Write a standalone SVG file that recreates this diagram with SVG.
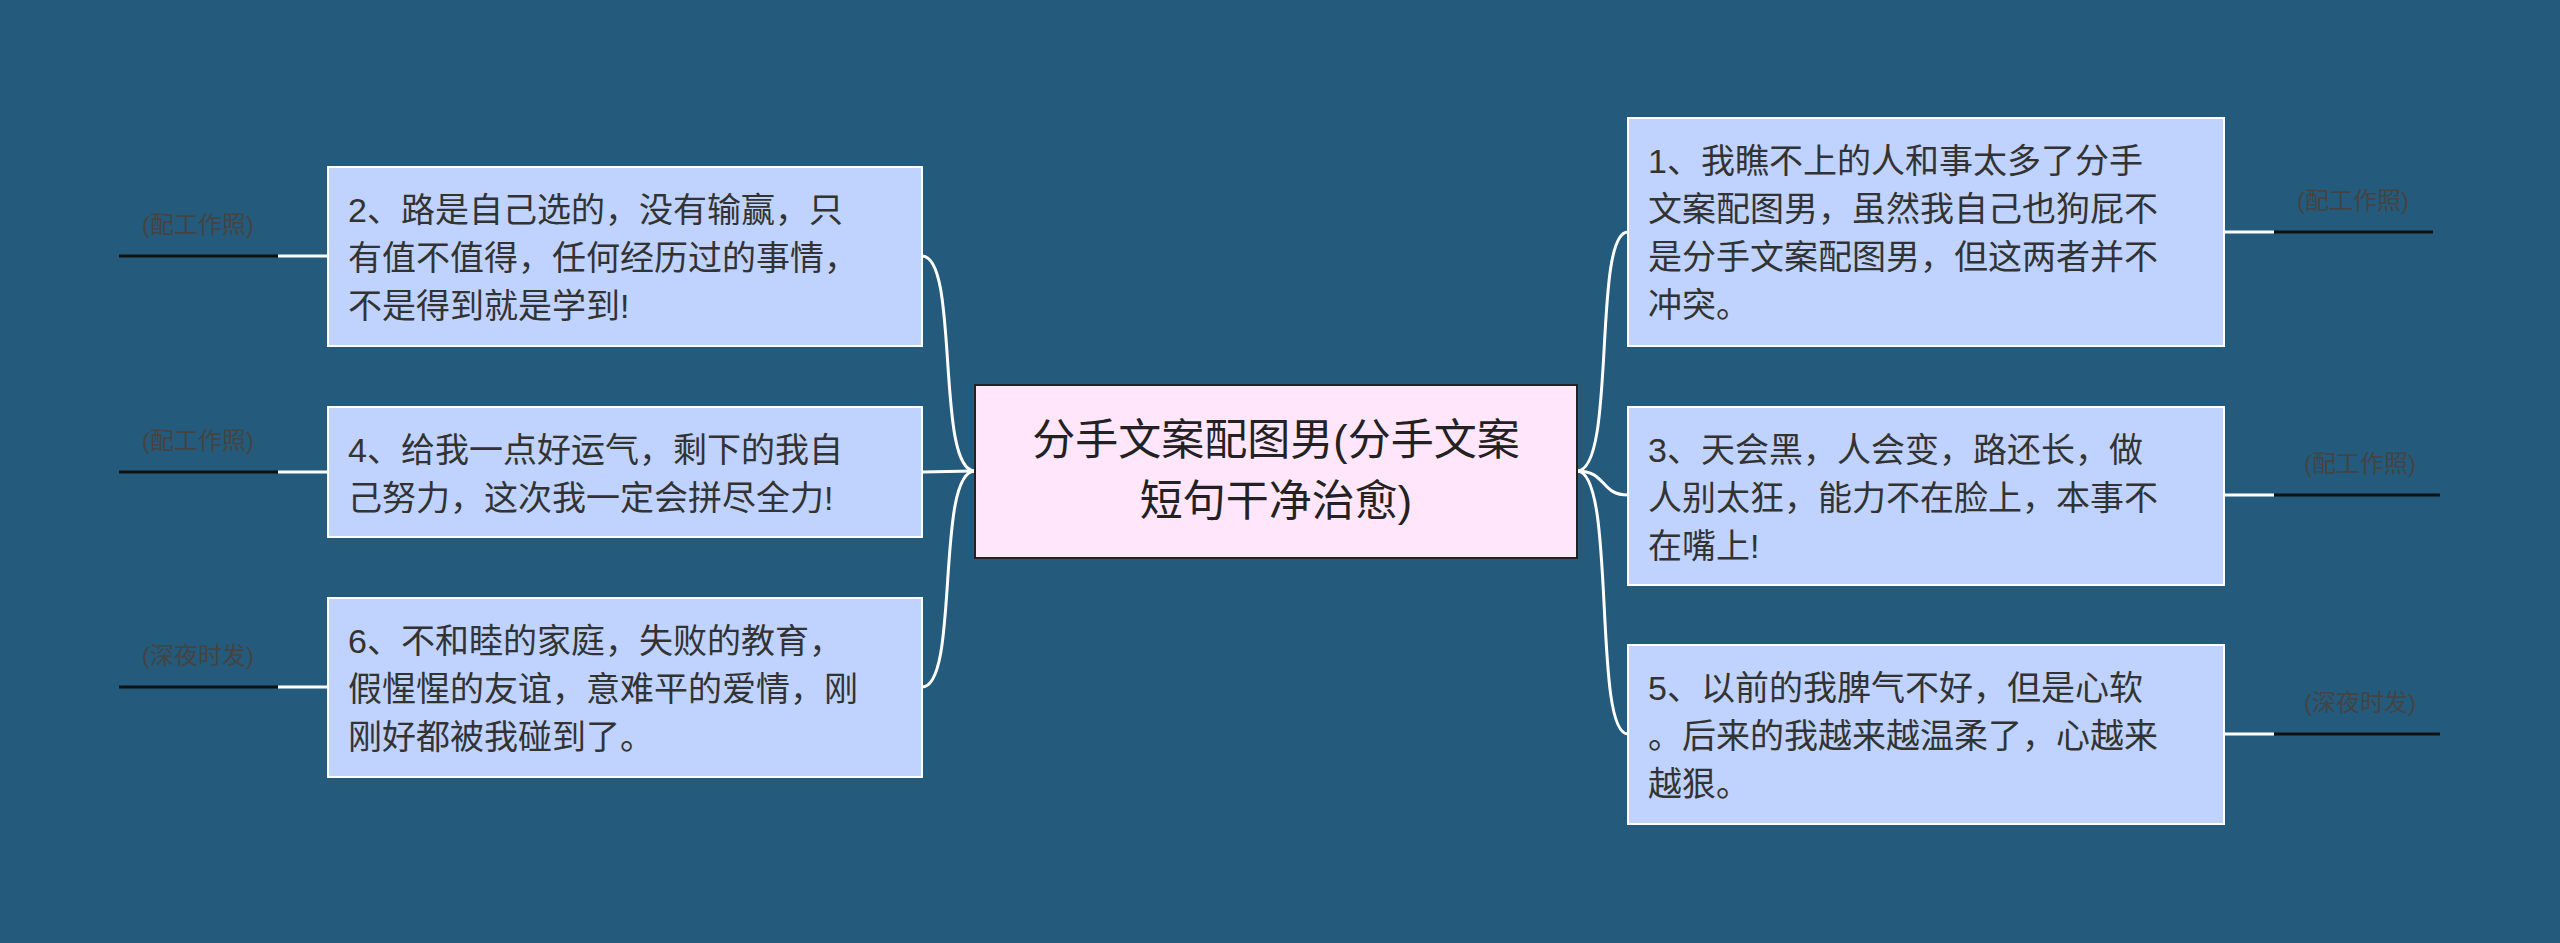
<svg xmlns="http://www.w3.org/2000/svg" width="2560" height="943" viewBox="0 0 2560 943">
<style>
.n rect{fill:#c0d3ff;stroke:#ffffff;stroke-width:2}
.n text{font-family:"Liberation Sans","Noto Sans CJK SC",sans-serif;font-size:34px;fill:#333}
.l text{font-family:"Liberation Sans","Noto Sans CJK SC",sans-serif;font-size:24px;fill:#444;text-anchor:middle}
.l line{stroke:#111;stroke-width:3}
.c path,.c line{fill:none;stroke:#fff;stroke-width:3}
</style>
<rect width="2560" height="943" fill="#245a7b"/>
<g class="c">
<path d="M975 471 C935 471 960 256 922 256"/>
<path d="M975 471 C945 471 950 472 922 472"/>
<path d="M975 471 C935 471 960 687 922 687"/>
<path d="M1577 471 C1617 471 1592 232 1628 232"/>
<path d="M1577 471 C1607 471 1600 495 1628 495"/>
<path d="M1577 471 C1617 471 1592 734 1628 734"/>
<line x1="278" y1="256" x2="328" y2="256"/>
<line x1="278" y1="472" x2="328" y2="472"/>
<line x1="278" y1="687" x2="328" y2="687"/>
<line x1="2224" y1="232" x2="2274" y2="232"/>
<line x1="2224" y1="495" x2="2274" y2="495"/>
<line x1="2224" y1="734" x2="2274" y2="734"/>
</g>
<g id="center"><rect x="975" y="385" width="602" height="173" fill="#ffe6fb" stroke="#222" stroke-width="2"/>
<text x="1276" y="455" font-family="Liberation Sans,Noto Sans CJK SC,sans-serif" font-size="43" fill="#222" text-anchor="middle">分手文案配图男(分手文案</text>
<text x="1276" y="516" font-family="Liberation Sans,Noto Sans CJK SC,sans-serif" font-size="43" fill="#222" text-anchor="middle">短句干净治愈)</text></g>
<g id="n2" class="n"><rect x="328" y="167" width="594" height="179"/>
<text x="348" y="222">2、路是自己选的，没有输赢，只</text><text x="348" y="270">有值不值得，任何经历过的事情，</text><text x="348" y="318">不是得到就是学到!</text></g>
<g id="n4" class="n"><rect x="328" y="407" width="594" height="130"/>
<text x="348" y="462">4、给我一点好运气，剩下的我自</text><text x="348" y="510">己努力，这次我一定会拼尽全力!</text></g>
<g id="n6" class="n"><rect x="328" y="598" width="594" height="179"/>
<text x="348" y="653">6、不和睦的家庭，失败的教育，</text><text x="348" y="701">假惺惺的友谊，意难平的爱情，刚</text><text x="348" y="749">刚好都被我碰到了。</text></g>
<g id="n1" class="n"><rect x="1628" y="118" width="596" height="228"/>
<text x="1648" y="173">1、我瞧不上的人和事太多了分手</text><text x="1648" y="221">文案配图男，虽然我自己也狗屁不</text><text x="1648" y="269">是分手文案配图男，但这两者并不</text><text x="1648" y="317">冲突。</text></g>
<g id="n3" class="n"><rect x="1628" y="407" width="596" height="178"/>
<text x="1648" y="462">3、天会黑，人会变，路还长，做</text><text x="1648" y="510">人别太狂，能力不在脸上，本事不</text><text x="1648" y="558">在嘴上!</text></g>
<g id="n5" class="n"><rect x="1628" y="645" width="596" height="179"/>
<text x="1648" y="700">5、以前的我脾气不好，但是心软</text><text x="1648" y="748">。后来的我越来越温柔了，心越来</text><text x="1648" y="796">越狠。</text></g>
<g id="lab2" class="l"><text x="198" y="233">(配工作照)</text><line x1="119" y1="256" x2="278" y2="256"/></g>
<g id="lab4" class="l"><text x="198" y="449">(配工作照)</text><line x1="119" y1="472" x2="278" y2="472"/></g
><g id="lab6" class="l"><text x="198" y="664">(深夜时发)</text><line x1="119" y1="687" x2="278" y2="687"/></g>
<g id="lab1" class="l"><text x="2353" y="209">(配工作照)</text><line x1="2274" y1="232" x2="2433" y2="232"/></g>
<g id="lab3" class="l"><text x="2360" y="472">(配工作照)</text><line x1="2274" y1="495" x2="2440" y2="495"/></g>
<g id="lab5" class="l"><text x="2360" y="711">(深夜时发)</text><line x1="2274" y1="734" x2="2440" y2="734"/></g>
</svg>
